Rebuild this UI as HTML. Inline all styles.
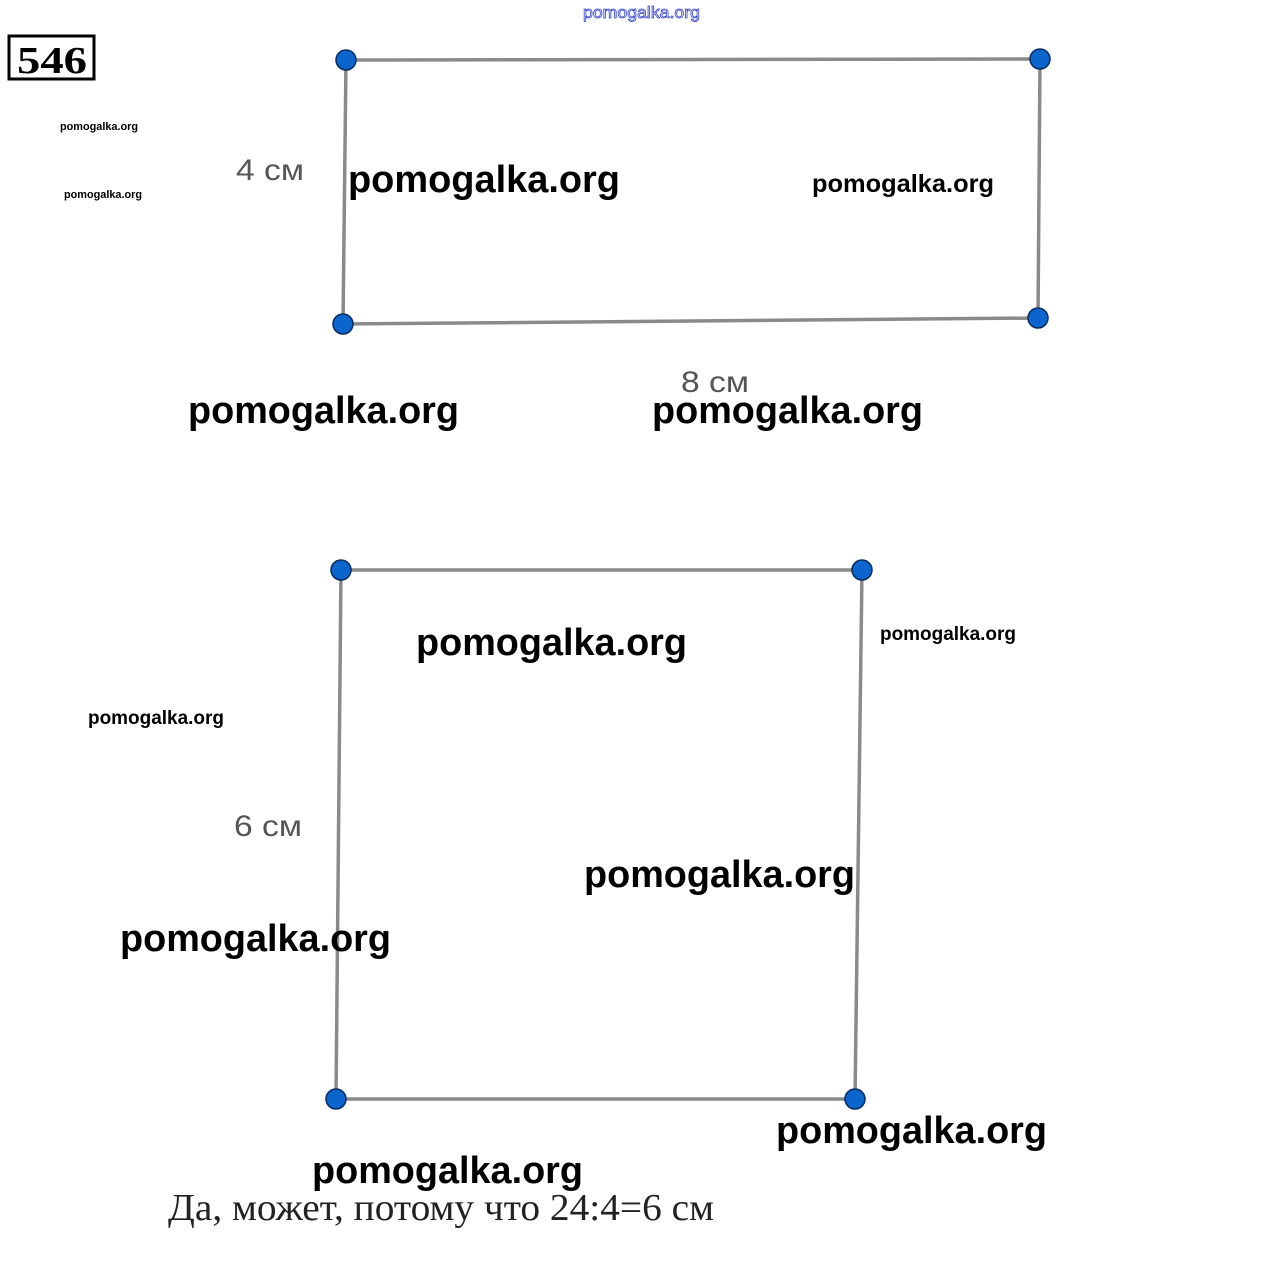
<!DOCTYPE html>
<html><head><meta charset="utf-8"><style>
html,body{margin:0;padding:0;background:#fff;}
svg{display:block}
.b{font-family:"Liberation Sans",sans-serif;font-weight:bold;fill:#000}
.g{font-family:"Liberation Sans",sans-serif;fill:#555}
</style></head><body>
<svg width="1280" height="1268" viewBox="0 0 1280 1268" xmlns="http://www.w3.org/2000/svg">
<rect width="1280" height="1268" fill="#fff"/>
<text x="583" y="18" font-family="Liberation Sans,sans-serif" font-size="17" fill="#fff" stroke="#3344cc" stroke-width="0.8" textLength="117" lengthAdjust="spacingAndGlyphs">pomogalka.org</text>
<rect x="9" y="36" width="85" height="43" fill="none" stroke="#000" stroke-width="3"/>
<text x="17" y="73" font-family="Liberation Serif,serif" font-weight="bold" font-size="38" textLength="70" lengthAdjust="spacingAndGlyphs">546</text>
<text class="b" x="60" y="130" font-size="11" textLength="78" lengthAdjust="spacingAndGlyphs">pomogalka.org</text>
<text class="b" x="64" y="198" font-size="11" textLength="78" lengthAdjust="spacingAndGlyphs">pomogalka.org</text>

<g stroke="#8a8a8a" stroke-width="3.5" fill="none">
<polygon points="346,60 1040,59 1038,318 343,324"/>
<polygon points="341,570 862,570 855,1099 336,1099"/>
</g>
<g fill="#0a66cc" stroke="#0a2a60" stroke-width="1.5">
<circle cx="346" cy="60" r="10"/><circle cx="1040" cy="59" r="10"/>
<circle cx="1038" cy="318" r="10"/><circle cx="343" cy="324" r="10"/>
<circle cx="341" cy="570" r="10"/><circle cx="862" cy="570" r="10"/>
<circle cx="855" cy="1099" r="10"/><circle cx="336" cy="1099" r="10"/>
</g>

<text class="g" x="236" y="180" font-size="30" textLength="68" lengthAdjust="spacingAndGlyphs">4 см</text>
<text class="g" x="681" y="392" font-size="30" textLength="68" lengthAdjust="spacingAndGlyphs">8 см</text>
<text class="g" x="234" y="836" font-size="30" textLength="68" lengthAdjust="spacingAndGlyphs">6 см</text>

<text class="b" x="348" y="192" font-size="38" textLength="272" lengthAdjust="spacingAndGlyphs">pomogalka.org</text>
<text class="b" x="812" y="192" font-size="25" textLength="182" lengthAdjust="spacingAndGlyphs">pomogalka.org</text>
<text class="b" x="188" y="423" font-size="38" textLength="271" lengthAdjust="spacingAndGlyphs">pomogalka.org</text>
<text class="b" x="652" y="423" font-size="38" textLength="271" lengthAdjust="spacingAndGlyphs">pomogalka.org</text>
<text class="b" x="416" y="655" font-size="38" textLength="271" lengthAdjust="spacingAndGlyphs">pomogalka.org</text>
<text class="b" x="880" y="640" font-size="19" textLength="136" lengthAdjust="spacingAndGlyphs">pomogalka.org</text>
<text class="b" x="88" y="724" font-size="19" textLength="136" lengthAdjust="spacingAndGlyphs">pomogalka.org</text>
<text class="b" x="584" y="887" font-size="38" textLength="271" lengthAdjust="spacingAndGlyphs">pomogalka.org</text>
<text class="b" x="120" y="951" font-size="38" textLength="271" lengthAdjust="spacingAndGlyphs">pomogalka.org</text>
<text class="b" x="776" y="1143" font-size="38" textLength="271" lengthAdjust="spacingAndGlyphs">pomogalka.org</text>
<text class="b" x="312" y="1183" font-size="38" textLength="271" lengthAdjust="spacingAndGlyphs">pomogalka.org</text>

<text x="168" y="1220" font-family="Liberation Serif,serif" font-size="38" fill="#222" textLength="546" lengthAdjust="spacingAndGlyphs">Да, может, потому что 24:4=6 см</text>
</svg>
</body></html>
